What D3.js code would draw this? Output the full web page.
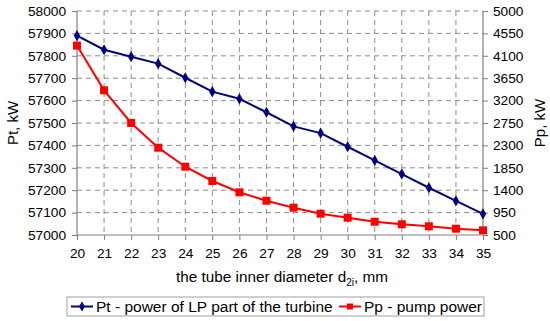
<!DOCTYPE html>
<html>
<head>
<meta charset="utf-8">
<script src="https://cdn.jsdelivr.net/npm/d3@7"></script>
<style>
  body { margin: 0; background: #fff; }
  text { font-family: "Liberation Sans", Arial, sans-serif; fill: #000; }
</style>
</head>
<body>
<div id="chart"></div>
<script>
// tube inner diameter, mm
var diameters = [20, 21, 22, 23, 24, 25, 26, 27, 28, 29, 30, 31, 32, 33, 34, 35];
// Pt - power of LP part of the turbine, kW (left axis)
var ptValues = [57890, 57827, 57796, 57765, 57702, 57640, 57608, 57548,
                57485, 57455, 57394, 57333, 57272, 57211, 57152, 57094];
// Pp - pump power, kW (right axis)
var ppValues = [4305, 3407, 2750, 2254, 1872, 1585, 1358, 1189,
                1049, 928, 848, 767, 715, 675, 627, 594];
var leftTicks = [57000, 57100, 57200, 57300, 57400, 57500, 57600, 57700, 57800, 57900, 58000];
var rightTicks = [500, 950, 1400, 1850, 2300, 2750, 3200, 3650, 4100, 4550, 5000];

var margin = {top: 11, right: 67, bottom: 86, left: 77},
    width = 550 - margin.left - margin.right,
    height = 321 - margin.top - margin.bottom;

var svg = d3.select("#chart")
  .append("svg")
    .attr("width", 550)
    .attr("height", 321)
  .append("g")
    .attr("transform", "translate(" + margin.left + "," + margin.top + ")");

var x = d3.scaleLinear().domain([20, 35]).range([0, width]);
var yL = d3.scaleLinear().domain([57000, 58000]).range([height, 0]);
var yR = d3.scaleLinear().domain([500, 5000]).range([height, 0]);

// dashed grid
svg.append("g").selectAll("line.h")
  .data(leftTicks.slice(1))
  .enter().append("line")
    .attr("x1", 0).attr("x2", width)
    .attr("y1", function(d) { return yL(d); })
    .attr("y2", function(d) { return yL(d); })
    .attr("stroke", "#8c8c8c").attr("stroke-dasharray", "5,4");
svg.append("g").selectAll("line.v")
  .data(diameters.slice(1, -1))
  .enter().append("line")
    .attr("y1", 0).attr("y2", height)
    .attr("x1", function(d) { return x(d); })
    .attr("x2", function(d) { return x(d); })
    .attr("stroke", "#8c8c8c").attr("stroke-dasharray", "5,4");

// axes
var axL = svg.append("g")
  .call(d3.axisLeft(yL).tickValues(leftTicks).tickSize(5).tickPadding(6).tickFormat(d3.format("d")));
var axR = svg.append("g")
  .attr("transform", "translate(" + width + ",0)")
  .call(d3.axisRight(yR).tickValues(rightTicks).tickSize(5).tickPadding(5).tickFormat(d3.format("d")));
var axB = svg.append("g")
  .attr("transform", "translate(0," + height + ")")
  .call(d3.axisBottom(x).tickValues(diameters).tickSize(5).tickPadding(8).tickFormat(d3.format("d")));

[axL, axR, axB].forEach(function(a) {
  a.selectAll(".domain").attr("stroke", "#808080").attr("stroke-width", 1.2);
  a.selectAll(".tick line").attr("stroke", "#808080");
  a.selectAll(".tick text")
    .style("font-family", "Liberation Sans, Arial, sans-serif")
    .style("font-size", "13.7px").attr("fill", "#000");
});
axL.selectAll(".domain").attr("d", "M0," + height + "V0");
axR.selectAll(".domain").attr("d", "M0," + height + "V0");
axB.selectAll(".domain").attr("d", "M0,0H" + width);

// axis titles
svg.append("text")
  .attr("transform", "rotate(-90)")
  .attr("x", -height / 2).attr("y", -margin.left + 18)
  .attr("text-anchor", "middle")
  .style("font-size", "15px")
  .text("Pt, kW");
svg.append("text")
  .attr("transform", "rotate(-90)")
  .attr("x", -height / 2).attr("y", width + 62)
  .attr("text-anchor", "middle")
  .style("font-size", "15px")
  .text("Pp, kW");
var xt = svg.append("text")
  .attr("x", width / 2 + 2).attr("y", height + 47)
  .attr("text-anchor", "middle")
  .style("font-size", "15.3px");
xt.append("tspan").text("the tube inner diameter d");
xt.append("tspan").attr("dy", 4).style("font-size", "10px").text("2i");
xt.append("tspan").attr("dy", -4).text(", mm");

// lines
var lineL = d3.line()
  .x(function(d, i) { return x(diameters[i]); })
  .y(function(d) { return yL(d); });
var lineR = d3.line()
  .x(function(d, i) { return x(diameters[i]); })
  .y(function(d) { return yR(d); });

svg.append("path").datum(ptValues)
  .attr("d", lineL).attr("fill", "none")
  .attr("stroke", "#000080").attr("stroke-width", 2);
svg.append("g").selectAll("path")
  .data(ptValues).enter().append("path")
    .attr("transform", function(d, i) { return "translate(" + x(diameters[i]) + "," + yL(d) + ")"; })
    .attr("d", d3.symbol().type(d3.symbolDiamond).size(36))
    .attr("fill", "#000080");

svg.append("path").datum(ppValues)
  .attr("d", lineR).attr("fill", "none")
  .attr("stroke", "#ff0000").attr("stroke-width", 2);
svg.append("g").selectAll("rect")
  .data(ppValues).enter().append("rect")
    .attr("x", function(d, i) { return x(diameters[i]) - 4; })
    .attr("y", function(d) { return yR(d) - 4; })
    .attr("width", 8).attr("height", 8)
    .attr("fill", "#ff0000");

// legend
var lg = svg.append("g").attr("transform", "translate(" + (67 - margin.left) + "," + (297 - margin.top) + ")");
lg.append("rect")
  .attr("width", 417).attr("height", 19)
  .attr("fill", "#fff").attr("stroke", "#a0a0a0");
lg.append("line").attr("x1", 4).attr("x2", 26).attr("y1", 9.5).attr("y2", 9.5)
  .attr("stroke", "#000080").attr("stroke-width", 2);
lg.append("path").attr("transform", "translate(15,9.5)")
  .attr("d", d3.symbol().type(d3.symbolDiamond).size(30)).attr("fill", "#000080");
lg.append("text").attr("x", 29).attr("y", 15).style("font-size", "15.5px")
  .text("Pt - power of LP part of the turbine");
lg.append("line").attr("x1", 272).attr("x2", 294).attr("y1", 9.5).attr("y2", 9.5)
  .attr("stroke", "#ff0000").attr("stroke-width", 2);
lg.append("rect").attr("x", 280).attr("y", 6.5).attr("width", 6).attr("height", 6).attr("fill", "#ff0000");
lg.append("text").attr("x", 297).attr("y", 15).style("font-size", "15.5px")
  .text("Pp - pump power");
</script>
</body>
</html>
